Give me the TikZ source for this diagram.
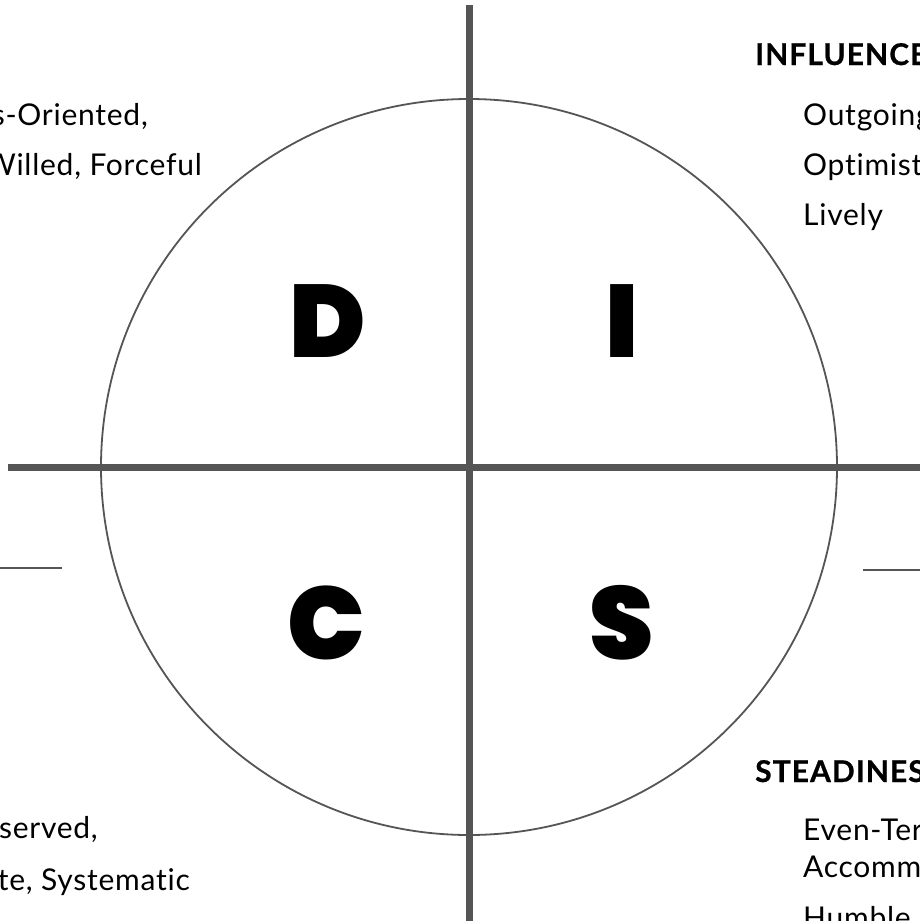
\documentclass[tikz,border=0pt]{standalone}
\usepackage{fontspec}
\setmainfont{Lato}
\newfontfamily\bodyfont[LetterSpace=2.5,Ligatures=NoCommon]{Lato}
\newfontfamily\headfont[LetterSpace=3.5,Ligatures=NoCommon,FakeBold=0.6,UprightFont=*-Bold,BoldFont=*-Bold]{Lato}
\newfontfamily\heavy{Poppins Black}
\definecolor{linegray}{HTML}{555555}
\begin{document}
\begin{tikzpicture}[x=1pt,y=-1pt,
  axis/.style={draw=linegray,line width=7pt},
  ring/.style={draw=linegray,line width=1.8pt},
  tick/.style={draw=linegray,line width=2.4pt},
  big/.style={inner sep=0pt,font=\heavy\fontsize{103}{103}\selectfont},
  body/.style={inner sep=0pt,font=\bodyfont\fontsize{30}{34}\selectfont},
  head/.style={inner sep=0pt,font=\headfont\bfseries\fontsize{30}{34}\selectfont}]
\useasboundingbox (0,0) rectangle (920,921);
\clip (0,0) rectangle (920,921);
\fill[white] (0,0) rectangle (920,921);
% axes
\coordinate (vtop) at (469,5);
\coordinate (vbot) at (469,921);
\coordinate (hl) at (8,467);
\coordinate (hr) at (920,467);
\coordinate (c) at (469,467);
\draw[ring] (c) circle[radius=368];
\draw[axis] (vtop) -- (vbot);
\draw[axis] (hl) -- (hr);
% side ticks
\coordinate (tl1) at (0,568);
\coordinate (tl2) at (62,568);
\coordinate (tr1) at (863,570);
\coordinate (tr2) at (920,570);
\draw[tick] (tl1) -- (tl2);
\draw[tick] (tr1) -- (tr2);
% letters
\node[big] (D) at (328,321) {D};
\node[big] (I) at (622,321) {I};
\node[big] (C) at (326,623) {C};
\node[big] (S) at (622,623) {S};
% left texts
\node[body,anchor=base east] (d1) at (148,125) {s-Oriented,};
\node[body,anchor=base east] (d2) at (202,175) {Willed, Forceful};
\node[body,anchor=base east] (c1) at (98,838) {served,};
\node[body,anchor=base east] (c2) at (190,890) {te, Systematic};
% right texts
\node[head,anchor=base west] (ih) at (755,65) {INFLUENCE};
\node[body,anchor=base west] (i1) at (803,125) {Outgoing};
\node[body,anchor=base west] (i2) at (803,175) {Optimist};
\node[body,anchor=base west] (i3) at (803,225) {Lively};
\node[head,anchor=base west] (sh) at (755,782) {STEADINES};
\node[body,anchor=base west] (s1) at (803,840) {Even-Ter};
\node[body,anchor=base west] (s2) at (803,877) {Accomm};
\node[body,anchor=base west] (s3) at (803,928) {Humble};
\end{tikzpicture}
\end{document}
